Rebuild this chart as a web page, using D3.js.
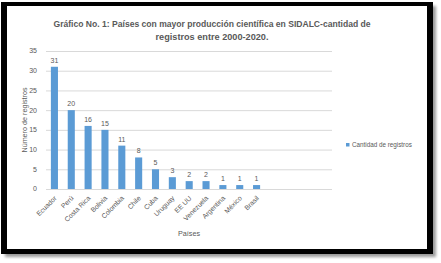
<!DOCTYPE html>
<html lang="es">
<head>
<meta charset="UTF-8">
<script src="https://d3js.org/d3.v7.min.js"></script>
<style>
    body { margin: 0; background: #fff; }
    svg { display: block; font-family: 'Liberation Sans', Arial, sans-serif; }
</style>
</head>
<body>
<script>
    // datos
    var paises = ["Ecuador", "Perú", "Costa Rica", "Bolivia", "Colombia", "Chile", "Cuba",
        "Uruguay", "EE UU", "Venezuela", "Argentina", "México", "Brasil"];
    var registros = [31, 20, 16, 15, 11, 8, 5, 3, 2, 2, 1, 1, 1];
    var yTicks = [0, 5, 10, 15, 20, 25, 30, 35];
    var titulo = ["Gráfico No. 1: Países con mayor producción científica en SIDALC-cantidad de",
        "registros entre 2000-2020."];
    var serie = "Cantidad de registros";

    var W = 441, H = 263;
    var plot = { left: 46, right: 332, top: 51, bottom: 189, barsRight: 265 };

    var svg = d3.select("body").append("svg")
        .attr("width", W)
        .attr("height", H);

    var defs = svg.append("defs");
    defs.append("filter").attr("id", "sombra")
        .attr("x", "-5%").attr("y", "-5%").attr("width", "110%").attr("height", "110%")
        .append("feGaussianBlur").attr("stdDeviation", 1.5);

    // marco negro con sombra
    svg.append("rect").attr("x", 5).attr("y", 6).attr("width", 431).attr("height", 251)
        .attr("fill", "#9a9a9a").attr("filter", "url(#sombra)");
    svg.append("rect").attr("x", 1).attr("y", 2).attr("width", 432).attr("height", 252)
        .attr("fill", "#000");
    svg.append("rect").attr("x", 7).attr("y", 6).attr("width", 420).attr("height", 243)
        .attr("fill", "#fff");

    var y = d3.scaleLinear()
        .domain([0, 35])
        .range([plot.bottom, plot.top]);

    var x = d3.scaleBand()
        .domain(paises)
        .range([plot.left, plot.barsRight])
        .paddingInner(0.58)
        .paddingOuter(0.29);

    // lineas de cuadricula
    svg.append("g")
        .selectAll("line")
        .data(yTicks)
        .enter().append("line")
        .attr("x1", plot.left)
        .attr("x2", plot.right)
        .attr("y1", function(d) { return y(d) + 0.5; })
        .attr("y2", function(d) { return y(d) + 0.5; })
        .attr("stroke", "#d9d9d9")
        .attr("stroke-width", 1);

    // etiquetas del eje y
    svg.append("g")
        .selectAll("text")
        .data(yTicks)
        .enter().append("text")
        .attr("x", plot.left - 9)
        .attr("y", function(d) { return y(d); })
        .attr("dy", "0.35em")
        .attr("text-anchor", "end")
        .attr("font-size", 7)
        .attr("fill", "#595959")
        .text(function(d) { return d; });

    // barras
    svg.append("g")
        .selectAll("rect")
        .data(registros)
        .enter().append("rect")
        .attr("x", function(d, i) { return x(paises[i]); })
        .attr("width", x.bandwidth())
        .attr("y", function(d) { return y(d); })
        .attr("height", function(d) { return y(0) - y(d); })
        .attr("fill", "#5b9bd5");

    // valores encima de las barras
    svg.append("g")
        .selectAll("text")
        .data(registros)
        .enter().append("text")
        .attr("x", function(d, i) { return x(paises[i]) + x.bandwidth() / 2; })
        .attr("y", function(d) { return y(d) - 4; })
        .attr("text-anchor", "middle")
        .attr("font-size", 7)
        .attr("fill", "#595959")
        .text(function(d) { return d; });

    // etiquetas del eje x, giradas
    svg.append("g")
        .selectAll("text")
        .data(paises)
        .enter().append("text")
        .attr("transform", function(d) {
            var cx = x(d) + x.bandwidth() / 2 + 1;
            return "translate(" + cx + "," + (plot.bottom + 8) + ") rotate(-45)";
        })
        .attr("text-anchor", "end")
        .attr("dy", "0.35em")
        .attr("font-size", 6.8)
        .attr("fill", "#595959")
        .text(function(d) { return d; });

    // titulos de ejes
    svg.append("text")
        .attr("transform", "translate(27," + ((plot.top + plot.bottom) / 2) + ") rotate(-90)")
        .attr("text-anchor", "middle")
        .attr("font-size", 7.2)
        .attr("fill", "#595959")
        .text("Número de registros");

    svg.append("text")
        .attr("x", (plot.left + plot.right) / 2)
        .attr("y", 236)
        .attr("text-anchor", "middle")
        .attr("font-size", 7.2)
        .attr("fill", "#595959")
        .text("Países");

    // titulo
    svg.append("g")
        .selectAll("text")
        .data(titulo)
        .enter().append("text")
        .attr("x", 212)
        .attr("y", function(d, i) { return 27 + i * 13; })
        .attr("text-anchor", "middle")
        .attr("font-size", 9)
        .attr("font-weight", "bold")
        .attr("fill", "#595959")
        .attr("textLength", function(d, i) { return i === 0 ? 317 : 113; })
        .attr("lengthAdjust", "spacingAndGlyphs")
        .text(function(d) { return d; });

    // leyenda
    var leyenda = svg.append("g").attr("transform", "translate(346,143)");
    leyenda.append("rect")
        .attr("width", 3.5).attr("height", 3.5)
        .attr("fill", "#5b9bd5");
    leyenda.append("text")
        .attr("x", 6)
        .attr("y", 1.8)
        .attr("dy", "0.35em")
        .attr("font-size", 6.3)
        .attr("fill", "#595959")
        .text(serie);
</script>
</body>
</html>
